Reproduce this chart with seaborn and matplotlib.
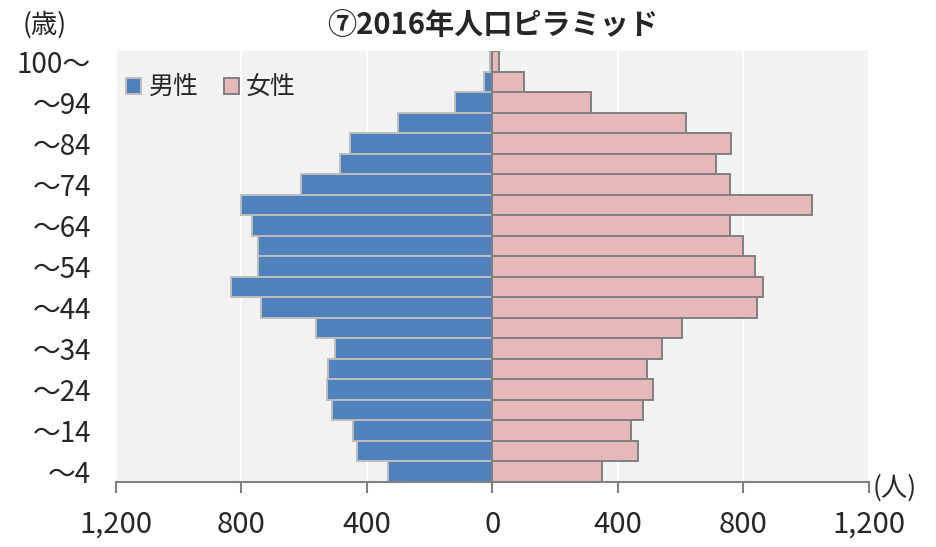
import matplotlib
matplotlib.use("Agg")
import matplotlib.pyplot as plt
import seaborn as sns
import numpy as np
import pandas as pd

# ── data ──────────────────────────────────────────────
AGES = ["0-4", "5-9", "10-14", "15-19", "20-24", "25-29", "30-34", "35-39",
        "40-44", "45-49", "50-54", "55-59", "60-64", "65-69", "70-74",
        "75-79", "80-84", "85-89", "90-94", "95-99", "100+"]
MALE = [334, 433, 446, 512, 528, 525, 503, 563, 738, 834, 748,
        748, 767, 802, 611, 487, 455, 302, 118, 28, 8]
FEMALE = [350, 465, 443, 481, 513, 493, 541, 605, 843, 862, 837,
          799, 757, 1019, 757, 714, 760, 617, 315, 99, 22]
YTICK_LABELS = ["100～", "～94", "～84", "～74", "～64", "～54",
                "～44", "～34", "～24", "～14", "～4"]
XTICKS = [-1200, -800, -400, 0, 400, 800, 1200]
XTICK_LABELS = ["1,200", "800", "400", "0", "400", "800", "1,200"]

df = pd.DataFrame({"age": AGES, "male": MALE, "female": FEMALE})
df["male_neg"] = -df["male"]
order = AGES[::-1]          # oldest group on top

# ── style ─────────────────────────────────────────────
sns.set_theme(style="white")
plt.rcParams["font.family"] = ["Noto Sans CJK JP", "DejaVu Sans"]

fig, ax = plt.subplots(figsize=(9.37, 5.47), dpi=100)
fig.subplots_adjust(left=0.1238, right=0.9274, bottom=0.1188, top=0.9068)
ax.set_facecolor("#F2F2F2")

sns.barplot(data=df, x="male_neg", y="age", order=order, orient="h",
            width=1.0, color="#4F81BD", saturation=1, edgecolor="#BDBDBD",
            linewidth=1.4, label="男性", ax=ax, zorder=2)
sns.barplot(data=df, x="female", y="age", order=order, orient="h",
            width=1.0, color="#E6B9B8", saturation=1, edgecolor="#808080",
            linewidth=1.4, label="女性", ax=ax, zorder=2)

# axes / grid
ax.set_xlim(-1200, 1200)
ax.set_ylim(len(AGES) - 0.5, -0.5)
ax.set_xticks(XTICKS)
ax.set_xticklabels(XTICK_LABELS, fontsize=21)
ax.set_yticks(np.arange(0, len(AGES), 2))
ax.set_yticklabels(YTICK_LABELS, fontsize=20)
ax.set_xlabel("")
ax.set_ylabel("")
ax.xaxis.grid(True, color="white", linewidth=1.5, zorder=0)
ax.set_axisbelow(True)
ax.axvline(0, color="#808080", linewidth=1.5, zorder=3)

for side in ["top", "right", "left"]:
    ax.spines[side].set_visible(False)
ax.spines["bottom"].set_color("#808080")
ax.spines["bottom"].set_linewidth(1.5)
ax.tick_params(axis="x", direction="out", length=8, width=1.5,
               color="#808080", bottom=True, pad=12)
ax.tick_params(axis="y", length=0, pad=18)

# legend
leg = ax.legend(loc="center left", ncol=2, frameon=False, fontsize=18,
                handlelength=0.6, handleheight=0.6, handletextpad=0.3,
                columnspacing=1.0, borderaxespad=0,
                bbox_to_anchor=(0.0, 0.915))

# titles and unit labels
fig.text(0.526, 0.955, "⑦2016年人口ピラミッド", ha="center", va="center",
         fontsize=21, fontweight="bold")
fig.text(0.048, 0.955, "(歳)", ha="center", va="center", fontsize=19)
fig.text(0.955, 0.108, "(人)", ha="center", va="center", fontsize=19)

plt.savefig("out.png", dpi=100)
plt.close()
